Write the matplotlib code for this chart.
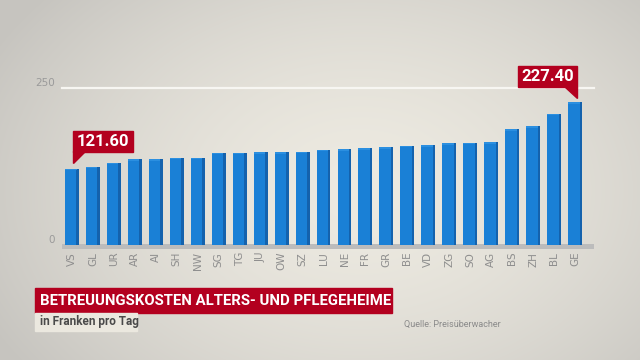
import numpy as np
import matplotlib
matplotlib.use("Agg")
import matplotlib.pyplot as plt
import matplotlib.transforms as mtransforms
from matplotlib.patches import Polygon, Rectangle

cantons = ["VS", "GL", "UR", "AR", "AI", "SH", "NW", "SG", "TG", "JU", "OW", "SZ", "LU",
           "NE", "FR", "GR", "BE", "VD", "ZG", "SO", "AG", "BS", "ZH", "BL", "GE"]
costs = [121.6, 124.8, 131.4, 137.1, 137.1, 138.9, 138.9, 147.3, 147.3, 148.3, 148.3, 148.8,
         151.6, 152.6, 154.4, 155.4, 158.2, 158.7, 162.5, 162.9, 163.9, 184.5, 188.8, 209.1, 227.4]
y_ticks = [0, 250]
y_tick_labels = ["0", "250"]
callouts = [(0, "121.60", "left"), (24, "227.40", "right")]
title = "BETREUUNGSKOSTEN ALTERS- UND PFLEGEHEIME"
subtitle = "in Franken pro Tag"
source = "Quelle: Preisüberwacher"

W, H = 640, 360
fig = plt.figure(figsize=(6.4, 3.6), dpi=100)

# background radial gradient
bg = fig.add_axes([0, 0, 1, 1])
yy, xx = np.mgrid[0:H, 0:W]
r = np.sqrt(((xx - 360) / 420.0) ** 2 + ((yy - 190) / 300.0) ** 2)
r = np.clip(r, 0, 1)
c0 = np.array([0xED, 0xEA, 0xE1]) / 255.0
c1 = np.array([0xC6, 0xC4, 0xBF]) / 255.0
img = c0[None, None, :] * (1 - r[..., None] ** 1.6) + c1[None, None, :] * (r[..., None] ** 1.6)
bg.imshow(img, aspect="auto", extent=[0, W, H, 0])
bg.set_xlim(0, W)
bg.set_ylim(H, 0)
bg.axis("off")

ax = fig.add_axes([62 / W, (H - 249) / H, 532 / W, (249 - 88) / H])
ax.set_facecolor("none")
n = len(cantons)
x = np.arange(n)
ax.set_xlim(-0.477, n - 1 + 0.9)
ax.set_ylim(-6, 250)

# floor
ax.axhspan(-6, 1.5, color="#bcbcbc", zorder=1, lw=0)
ax.axhline(250, color="#f7f6f2", lw=1.6, zorder=1, clip_on=False)

front = "#1a80d6"
side = "#1462ad"
ax.bar(x - 0.06, costs, width=0.55, color=front, zorder=3, lw=0)
ax.bar(x + 0.27, costs, width=0.12, color=side, zorder=3, lw=0)
ax.bar(x - 0.06, [2.5] * n, bottom=np.array(costs) - 2.5, width=0.55, color="#2b8fe0", zorder=4, lw=0)

for s in ax.spines.values():
    s.set_visible(False)
ax.set_xticks(x)
ax.set_xticklabels(cantons, rotation=90, color="#8e8e8e", fontsize=7.5, family="DejaVu Sans")
ax.set_yticks(y_ticks)
ax.set_yticklabels(y_tick_labels, color="#9a9a9a", fontsize=7.5)
for lab in ax.get_yticklabels():
    lab.set_verticalalignment("bottom")
ax.tick_params(length=0, axis="x", pad=2)
ax.tick_params(length=0, axis="y", pad=5)

# callouts in pixel space
fig.canvas.draw()
ident = mtransforms.IdentityTransform()
red = "#b3001f"
for idx, label, side_ in callouts:
    px, py = ax.transData.transform((idx, costs[idx]))
    if side_ == "left":
        tx, ty = px + 1, py + 6
        box = Rectangle((tx, ty + 11), 60, 21, transform=ident, color=red, zorder=10)
        tri = Polygon([(tx, ty), (tx, ty + 11.5), (tx + 12, ty + 11.5)], closed=True,
                      transform=ident, color=red, zorder=10)
        cx = tx + 30
    else:
        tx, ty = px + 2, py + 4
        box = Rectangle((tx - 59, ty + 11), 59, 21, transform=ident, color=red, zorder=10)
        tri = Polygon([(tx, ty), (tx, ty + 11.5), (tx - 12, ty + 11.5)], closed=True,
                      transform=ident, color=red, zorder=10)
        cx = tx - 29.5
    fig.patches.extend([box, tri])
    fig.text(cx, ty + 21.5, label, transform=ident, color="white", fontsize=12,
             fontweight="bold", family="Roboto", ha="center", va="center", zorder=11)

# title block
fig.patches.append(Rectangle((35 / W, (H - 313) / H), 357 / W, 25 / H, transform=fig.transFigure,
                             color="#b3001f", zorder=5))
fig.patches.append(Rectangle((35 / W, (H - 331) / H), 102 / W, 18 / H, transform=fig.transFigure,
                             color="#ebe8df", zorder=5))
fig.text(40 / W, (H - 301) / H, title, color="white", fontsize=10.7, fontweight="bold",
         family="Roboto", ha="left", va="center", zorder=6)
fig.text(40 / W, (H - 322) / H, subtitle, color="#4a4a4a", fontsize=8.5, fontweight="bold",
         family="Roboto", ha="left", va="center", zorder=6)
fig.text(404 / W, (H - 324) / H, source, color="#8a8a8a", fontsize=6.5,
         family="Roboto", ha="left", va="center", zorder=6)

fig.savefig("out.png", dpi=100)
